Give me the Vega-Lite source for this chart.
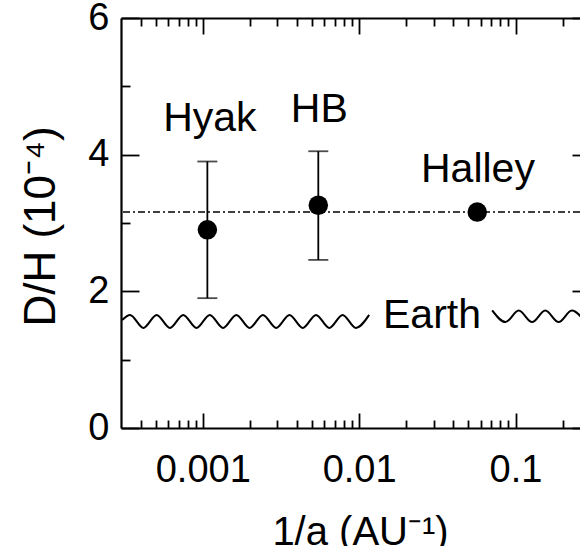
{
  "$schema": "https://vega.github.io/schema/vega-lite/v6.json",
  "width": 459,
  "height": 410,
  "autosize": {"type": "none"},
  "padding": {"left": 121, "top": 18, "right": 0, "bottom": 118},
  "background": "white",
  "config": {
    "view": {"stroke": null},
    "font": "Liberation Sans",
    "axis": {
      "grid": false,
      "domainColor": "black",
      "domainWidth": 2.2,
      "tickColor": "black",
      "tickWidth": 1.8,
      "labelColor": "black",
      "labelFont": "Liberation Sans",
      "labelOverlap": false,
      "labelFlush": false,
      "titleColor": "black",
      "titleFont": "Liberation Sans",
      "titleFontWeight": "normal"
    }
  },
  "datasets": {
    "comets": [
      {"comet": "Hyak", "inv_a": 0.00107, "dh": 2.9, "lo": 1.9, "hi": 3.9},
      {"comet": "HB", "inv_a": 0.00548, "dh": 3.26, "lo": 2.46, "hi": 4.05},
      {"comet": "Halley", "inv_a": 0.0569, "dh": 3.16, "lo": null, "hi": null}
    ],
    "notes": [
      {"text": "Hyak", "inv_a": 0.00111, "dh": 4.34},
      {"text": "HB", "inv_a": 0.00556, "dh": 4.48},
      {"text": "Halley", "inv_a": 0.0575, "dh": 3.605},
      {"text": "Earth", "inv_a": 0.02924, "dh": 1.46}
    ],
    "earth": [
      {"segment": "left", "inv_a": 0.000305, "dh": 1.58},
      {"segment": "left", "inv_a": 0.000343, "dh": 1.655},
      {"segment": "left", "inv_a": 0.0004171, "dh": 1.465},
      {"segment": "left", "inv_a": 0.0005072, "dh": 1.655},
      {"segment": "left", "inv_a": 0.0006168, "dh": 1.465},
      {"segment": "left", "inv_a": 0.0007499, "dh": 1.655},
      {"segment": "left", "inv_a": 0.000912, "dh": 1.465},
      {"segment": "left", "inv_a": 0.001109, "dh": 1.655},
      {"segment": "left", "inv_a": 0.001348, "dh": 1.465},
      {"segment": "left", "inv_a": 0.00164, "dh": 1.655},
      {"segment": "left", "inv_a": 0.001994, "dh": 1.465},
      {"segment": "left", "inv_a": 0.002425, "dh": 1.655},
      {"segment": "left", "inv_a": 0.002948, "dh": 1.465},
      {"segment": "left", "inv_a": 0.003585, "dh": 1.655},
      {"segment": "left", "inv_a": 0.00436, "dh": 1.465},
      {"segment": "left", "inv_a": 0.005302, "dh": 1.655},
      {"segment": "left", "inv_a": 0.006447, "dh": 1.465},
      {"segment": "left", "inv_a": 0.007839, "dh": 1.655},
      {"segment": "left", "inv_a": 0.009533, "dh": 1.465},
      {"segment": "left", "inv_a": 0.01159, "dh": 1.655},
      {"segment": "right", "inv_a": 0.0709, "dh": 1.72},
      {"segment": "right", "inv_a": 0.08628, "dh": 1.55},
      {"segment": "right", "inv_a": 0.1048, "dh": 1.72},
      {"segment": "right", "inv_a": 0.1276, "dh": 1.55},
      {"segment": "right", "inv_a": 0.155, "dh": 1.72},
      {"segment": "right", "inv_a": 0.1886, "dh": 1.55},
      {"segment": "right", "inv_a": 0.2292, "dh": 1.72},
      {"segment": "right", "inv_a": 0.279, "dh": 1.55}
    ]
  },
  "layer": [
    {
      "data": {"name": "earth"},
      "mark": {"type": "line", "interpolate": "monotone", "color": "black", "strokeWidth": 2, "clip": true},
      "encoding": {
        "x": {
          "field": "inv_a", "type": "quantitative",
          "scale": {"type": "log", "domain": [0.0003, 0.2584], "nice": false},
          "axis": {
            "orient": "bottom",
            "values": [0.0004, 0.0005, 0.0006, 0.0007, 0.0008, 0.0009, 0.001, 0.002, 0.003, 0.004, 0.005, 0.006, 0.007, 0.008, 0.009, 0.01, 0.02, 0.03, 0.04, 0.05, 0.06, 0.07, 0.08, 0.09, 0.1, 0.2],
            "labelExpr": "datum.value == 0.001 ? '0.001' : datum.value == 0.01 ? '0.01' : datum.value == 0.1 ? '0.1' : ''",
            "tickSize": {"condition": {"test": "datum.value == 0.001 || datum.value == 0.01 || datum.value == 0.1", "value": -15}, "value": -8},
            "labelFontSize": 38,
            "labelBaseline": "alphabetic",
            "labelPadding": 68,
            "title": "1/a (AU⁻¹)",
            "titleFontSize": 40,
            "titleX": 239,
            "titleY": 116,
            "titleAlign": "center",
            "titleBaseline": "alphabetic"
          }
        },
        "y": {
          "field": "dh", "type": "quantitative",
          "scale": {"domain": [0, 6], "nice": false},
          "axis": {
            "orient": "left",
            "values": [0, 1, 2, 3, 4, 5, 6],
            "labelExpr": "datum.value % 2 == 0 ? datum.label : ''",
            "tickSize": {"condition": {"test": "datum.value % 2 == 0", "value": -18}, "value": -9},
            "labelFontSize": 38,
            "labelPadding": 30,
            "title": "D/H (10⁻⁴)",
            "titleFontSize": 44,
            "titleAngle": -90,
            "titleX": -67,
            "titleY": 208,
            "titleAlign": "center",
            "titleBaseline": "alphabetic"
          }
        },
        "detail": {"field": "segment"}
      }
    },
    {
      "data": {"name": "comets"},
      "transform": [{"filter": "datum.comet == 'Halley'"}],
      "mark": {"type": "rule", "color": "black", "strokeWidth": 1.6, "strokeDash": [7, 3, 2, 3]},
      "encoding": {
        "y": {"field": "dh", "type": "quantitative", "scale": {"domain": [0, 6], "nice": false}, "axis": null}
      }
    },
    {
      "data": {"name": "comets"},
      "transform": [{"filter": "datum.lo != null"}],
      "mark": {"type": "rule", "color": "black", "strokeWidth": 1.8},
      "encoding": {
        "x": {
          "field": "inv_a", "type": "quantitative",
          "scale": {"type": "log", "domain": [0.0003, 0.2584], "nice": false},
          "axis": {
            "orient": "top",
            "values": [0.0004, 0.0005, 0.0006, 0.0007, 0.0008, 0.0009, 0.001, 0.002, 0.003, 0.004, 0.005, 0.006, 0.007, 0.008, 0.009, 0.01, 0.02, 0.03, 0.04, 0.05, 0.06, 0.07, 0.08, 0.09, 0.1, 0.2],
            "labels": false,
            "tickSize": {"condition": {"test": "datum.value == 0.001 || datum.value == 0.01 || datum.value == 0.1", "value": -16}, "value": -8},
            "title": null
          }
        },
        "y": {
          "field": "lo", "type": "quantitative",
          "scale": {"domain": [0, 6], "nice": false},
          "axis": {
            "orient": "right",
            "values": [0, 2, 4, 6],
            "labels": false,
            "domain": false,
            "tickSize": -8,
            "title": null
          }
        },
        "y2": {"field": "hi"}
      }
    },
    {
      "data": {"name": "comets"},
      "transform": [{"filter": "datum.lo != null"}],
      "mark": {"type": "tick", "orient": "horizontal", "color": "black", "size": 20, "thickness": 1.8},
      "encoding": {
        "x": {"field": "inv_a", "type": "quantitative", "scale": {"type": "log", "domain": [0.0003, 0.2584], "nice": false}, "axis": null},
        "y": {"field": "hi", "type": "quantitative", "scale": {"domain": [0, 6], "nice": false}, "axis": null}
      }
    },
    {
      "data": {"name": "comets"},
      "transform": [{"filter": "datum.lo != null"}],
      "mark": {"type": "tick", "orient": "horizontal", "color": "black", "size": 20, "thickness": 1.8},
      "encoding": {
        "x": {"field": "inv_a", "type": "quantitative", "scale": {"type": "log", "domain": [0.0003, 0.2584], "nice": false}, "axis": null},
        "y": {"field": "lo", "type": "quantitative", "scale": {"domain": [0, 6], "nice": false}, "axis": null}
      }
    },
    {
      "data": {"name": "comets"},
      "mark": {"type": "point", "shape": "circle", "filled": true, "color": "black", "opacity": 1, "size": 380},
      "encoding": {
        "x": {"field": "inv_a", "type": "quantitative", "scale": {"type": "log", "domain": [0.0003, 0.2584], "nice": false}, "axis": null},
        "y": {"field": "dh", "type": "quantitative", "scale": {"domain": [0, 6], "nice": false}, "axis": null}
      }
    },
    {
      "data": {"name": "notes"},
      "mark": {"type": "text", "font": "Liberation Sans", "fontSize": 41, "color": "black", "align": "center", "baseline": "alphabetic"},
      "encoding": {
        "x": {"field": "inv_a", "type": "quantitative", "scale": {"type": "log", "domain": [0.0003, 0.2584], "nice": false}, "axis": null},
        "y": {"field": "dh", "type": "quantitative", "scale": {"domain": [0, 6], "nice": false}, "axis": null},
        "text": {"field": "text"}
      }
    }
  ],
  "resolve": {"axis": {"x": "independent", "y": "independent"}}
}
